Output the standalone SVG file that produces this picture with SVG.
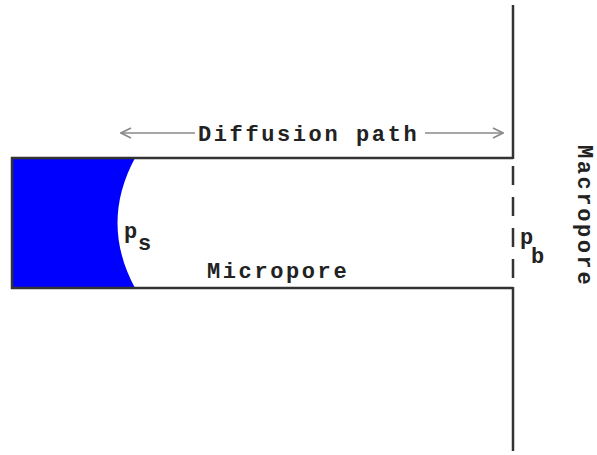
<svg xmlns="http://www.w3.org/2000/svg" width="597" height="455" viewBox="0 0 597 455">
<defs>
<style>
.wall{stroke:#333;stroke-width:2.5;fill:none}
.lbl{font-family:"Liberation Mono","Courier New",monospace;font-size:22px;font-weight:bold;fill:#222;letter-spacing:2.6px}
.sym{font-family:"Liberation Mono","Courier New",monospace;font-size:22px;font-weight:bold;fill:#222}
.arr{stroke:#888;stroke-width:1.6;fill:none}
</style>
<marker id="chev" viewBox="0 0 12 12" refX="11" refY="6" markerWidth="12" markerHeight="12" markerUnits="userSpaceOnUse" orient="auto-start-reverse">
<path d="M1,1 L11,6 L1,11" stroke="#888" stroke-width="1.6" fill="none"/>
</marker>
</defs>
<rect width="597" height="455" fill="#fff"/>
<g id="micropore">
<path d="M12,158 L135,158 Q100,223 135,288 L12,288 Z" fill="#0000ff"/>
<path class="wall" d="M513,158 L12,158 L12,288 L513,288"/>
<text class="lbl" x="207" y="278">Micropore</text>
</g>
<g id="macropore">
<line class="wall" x1="513" y1="5" x2="513" y2="159"/>
<line class="wall" x1="513" y1="287" x2="513" y2="451"/>
<line x1="513" y1="166" x2="513" y2="279" stroke="#333" stroke-width="2.5" stroke-dasharray="19,12"/>
<text class="lbl" transform="translate(578,145) rotate(90)">Macropore</text>
</g>
<g id="ps">
<text class="sym" x="124" y="238">p</text>
<text class="sym" x="138" y="250">s</text>
</g>
<g id="pb">
<text class="sym" x="520" y="244">p</text>
<text class="sym" x="531" y="263">b</text>
</g>
<g id="connectors">
<line class="arr" x1="195" y1="133" x2="121" y2="133" marker-end="url(#chev)"/>
<line class="arr" x1="425" y1="133" x2="503" y2="133" marker-end="url(#chev)"/>
</g>
<g id="diffusion-label">
<text class="lbl" x="198" y="141">Diffusion path</text>
</g>
</svg>
